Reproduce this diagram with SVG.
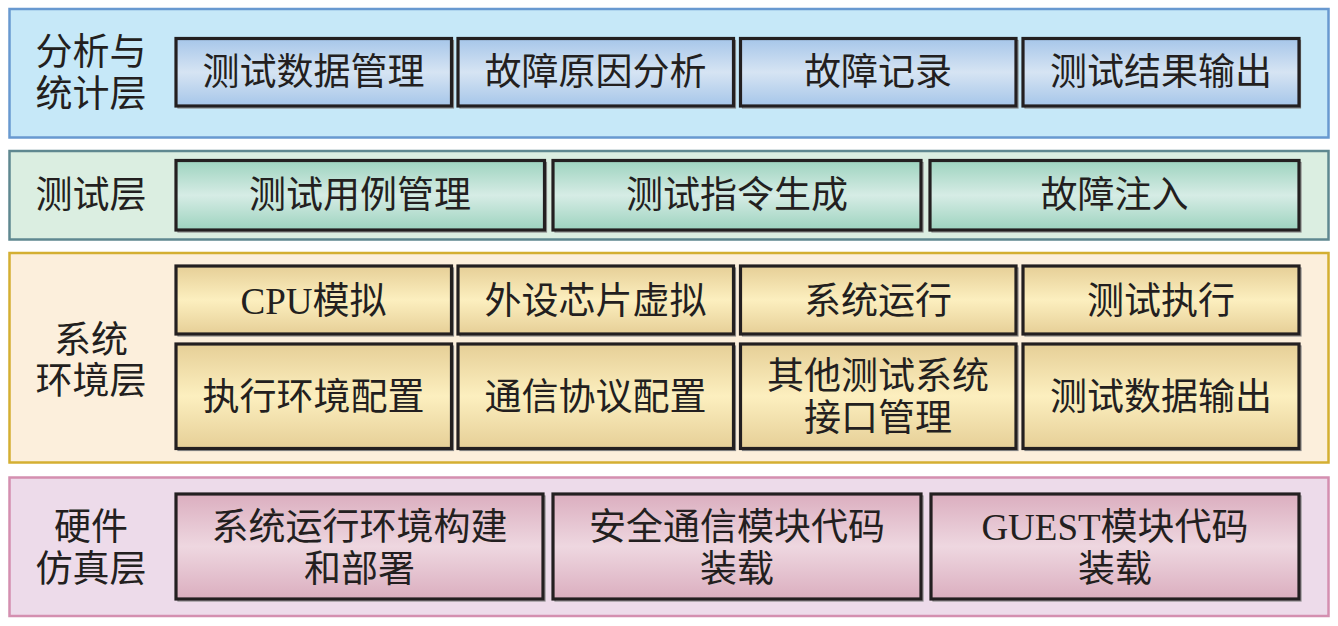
<svg xmlns="http://www.w3.org/2000/svg" width="1338" height="626" viewBox="0 0 1338 626">
<defs>
<linearGradient id="gBlue" x1="0" y1="0" x2="0" y2="1"><stop offset="0" stop-color="#a6c6e9"/><stop offset="0.5" stop-color="#d6e4f3"/><stop offset="1" stop-color="#a6c6e9"/></linearGradient>
<linearGradient id="gGreen" x1="0" y1="0" x2="0" y2="1"><stop offset="0" stop-color="#9dd3bf"/><stop offset="0.5" stop-color="#d6ece5"/><stop offset="1" stop-color="#9dd3bf"/></linearGradient>
<linearGradient id="gYellow" x1="0" y1="0" x2="0" y2="1"><stop offset="0" stop-color="#e6cf97"/><stop offset="0.5" stop-color="#fcefbf"/><stop offset="1" stop-color="#e6cf97"/></linearGradient>
<linearGradient id="gPink" x1="0" y1="0" x2="0" y2="1"><stop offset="0" stop-color="#dbaebf"/><stop offset="0.5" stop-color="#eed7e0"/><stop offset="1" stop-color="#dbaebf"/></linearGradient>
</defs>
<style>
.layer{stroke-width:2.5}
.box{stroke:#231f20;stroke-width:3.2}
.sh{fill:none;stroke:#8a8a8a;stroke-width:1.2}
text{font-family:"Liberation Serif","Noto Sans CJK SC",serif;font-size:37px;fill:#231f20;text-anchor:middle}
</style>
<rect width="1338" height="626" fill="#ffffff"/>

<g id="layer-analysis">
<rect class="layer" x="9.5" y="9" width="1319" height="128.5" fill="#c6e8f8" stroke="#6899d0"/>
<text x="91" y="65">分析与</text>
<text x="91" y="107">统计层</text>
</g>
<g id="node-a1"><rect class="sh" x="178" y="40.5" width="275.5" height="67.5"/><rect class="box" x="176" y="38.5" width="275.5" height="67.5" fill="url(#gBlue)"/><text x="313.5" y="85">测试数据管理</text></g>
<g id="node-a2"><rect class="sh" x="460" y="40.5" width="275.5" height="67.5"/><rect class="box" x="458" y="38.5" width="275.5" height="67.5" fill="url(#gBlue)"/><text x="595.5" y="85">故障原因分析</text></g>
<g id="node-a3"><rect class="sh" x="742.5" y="40.5" width="275.5" height="67.5"/><rect class="box" x="740.5" y="38.5" width="275.5" height="67.5" fill="url(#gBlue)"/><text x="878" y="85">故障记录</text></g>
<g id="node-a4"><rect class="sh" x="1025" y="40.5" width="275.5" height="67.5"/><rect class="box" x="1023" y="38.5" width="276" height="67.5" fill="url(#gBlue)"/><text x="1161" y="85">测试结果输出</text></g>

<g id="layer-test">
<rect class="layer" x="9.5" y="151" width="1319" height="88.5" fill="#dbeee1" stroke="#5f8890"/>
<text x="91" y="208">测试层</text>
</g>
<g id="node-t1"><rect class="sh" x="178" y="162.5" width="368.5" height="69.5"/><rect class="box" x="176" y="160.5" width="368.5" height="69.5" fill="url(#gGreen)"/><text x="360" y="208">测试用例管理</text></g>
<g id="node-t2"><rect class="sh" x="555" y="162.5" width="368" height="69.5"/><rect class="box" x="553" y="160.5" width="368" height="69.5" fill="url(#gGreen)"/><text x="737" y="208">测试指令生成</text></g>
<g id="node-t3"><rect class="sh" x="932" y="162.5" width="369" height="69.5"/><rect class="box" x="930" y="160.5" width="369" height="69.5" fill="url(#gGreen)"/><text x="1114.5" y="208">故障注入</text></g>

<g id="layer-env">
<rect class="layer" x="9.5" y="253" width="1319" height="209.5" fill="#fcefdc" stroke="#d4af32"/>
<text x="91" y="353">系统</text>
<text x="91" y="394">环境层</text>
</g>
<g id="node-e1"><rect class="sh" x="178" y="268" width="275.5" height="68"/><rect class="box" x="176" y="266" width="275.5" height="68" fill="url(#gYellow)"/><text x="313.5" y="314">CPU模拟</text></g>
<g id="node-e2"><rect class="sh" x="460" y="268" width="275.5" height="68"/><rect class="box" x="458" y="266" width="275.5" height="68" fill="url(#gYellow)"/><text x="595.5" y="314">外设芯片虚拟</text></g>
<g id="node-e3"><rect class="sh" x="742.5" y="268" width="275.5" height="68"/><rect class="box" x="740.5" y="266" width="275.5" height="68" fill="url(#gYellow)"/><text x="878" y="314">系统运行</text></g>
<g id="node-e4"><rect class="sh" x="1025" y="268" width="276" height="68"/><rect class="box" x="1023" y="266" width="276" height="68" fill="url(#gYellow)"/><text x="1161" y="314">测试执行</text></g>
<g id="node-e5"><rect class="sh" x="178" y="346" width="275.5" height="104.5"/><rect class="box" x="176" y="344" width="275.5" height="104.5" fill="url(#gYellow)"/><text x="313.5" y="410">执行环境配置</text></g>
<g id="node-e6"><rect class="sh" x="460" y="346" width="275.5" height="104.5"/><rect class="box" x="458" y="344" width="275.5" height="104.5" fill="url(#gYellow)"/><text x="595.5" y="410">通信协议配置</text></g>
<g id="node-e7"><rect class="sh" x="742.5" y="346" width="275.5" height="104.5"/><rect class="box" x="740.5" y="344" width="275.5" height="104.5" fill="url(#gYellow)"/><text x="878" y="389">其他测试系统</text><text x="878" y="431">接口管理</text></g>
<g id="node-e8"><rect class="sh" x="1025" y="346" width="276" height="104.5"/><rect class="box" x="1023" y="344" width="276" height="104.5" fill="url(#gYellow)"/><text x="1161" y="410">测试数据输出</text></g>

<g id="layer-hw">
<rect class="layer" x="9.5" y="477.5" width="1319" height="138.5" fill="#eddbea" stroke="#d48fb0"/>
<text x="91" y="540">硬件</text>
<text x="91" y="582">仿真层</text>
</g>
<g id="node-h1"><rect class="sh" x="178" y="496" width="367" height="105"/><rect class="box" x="176" y="494" width="367" height="105" fill="url(#gPink)"/><text x="359.5" y="540">系统运行环境构建</text><text x="359.5" y="582">和部署</text></g>
<g id="node-h2"><rect class="sh" x="555" y="496" width="368" height="105"/><rect class="box" x="553" y="494" width="368" height="105" fill="url(#gPink)"/><text x="737" y="540">安全通信模块代码</text><text x="737" y="582">装载</text></g>
<g id="node-h3"><rect class="sh" x="933" y="496" width="368" height="105"/><rect class="box" x="931" y="494" width="368" height="105" fill="url(#gPink)"/><text x="1115" y="540">GUEST模块代码</text><text x="1115" y="582">装载</text></g>

<g id="connectors"></g>
</svg>
